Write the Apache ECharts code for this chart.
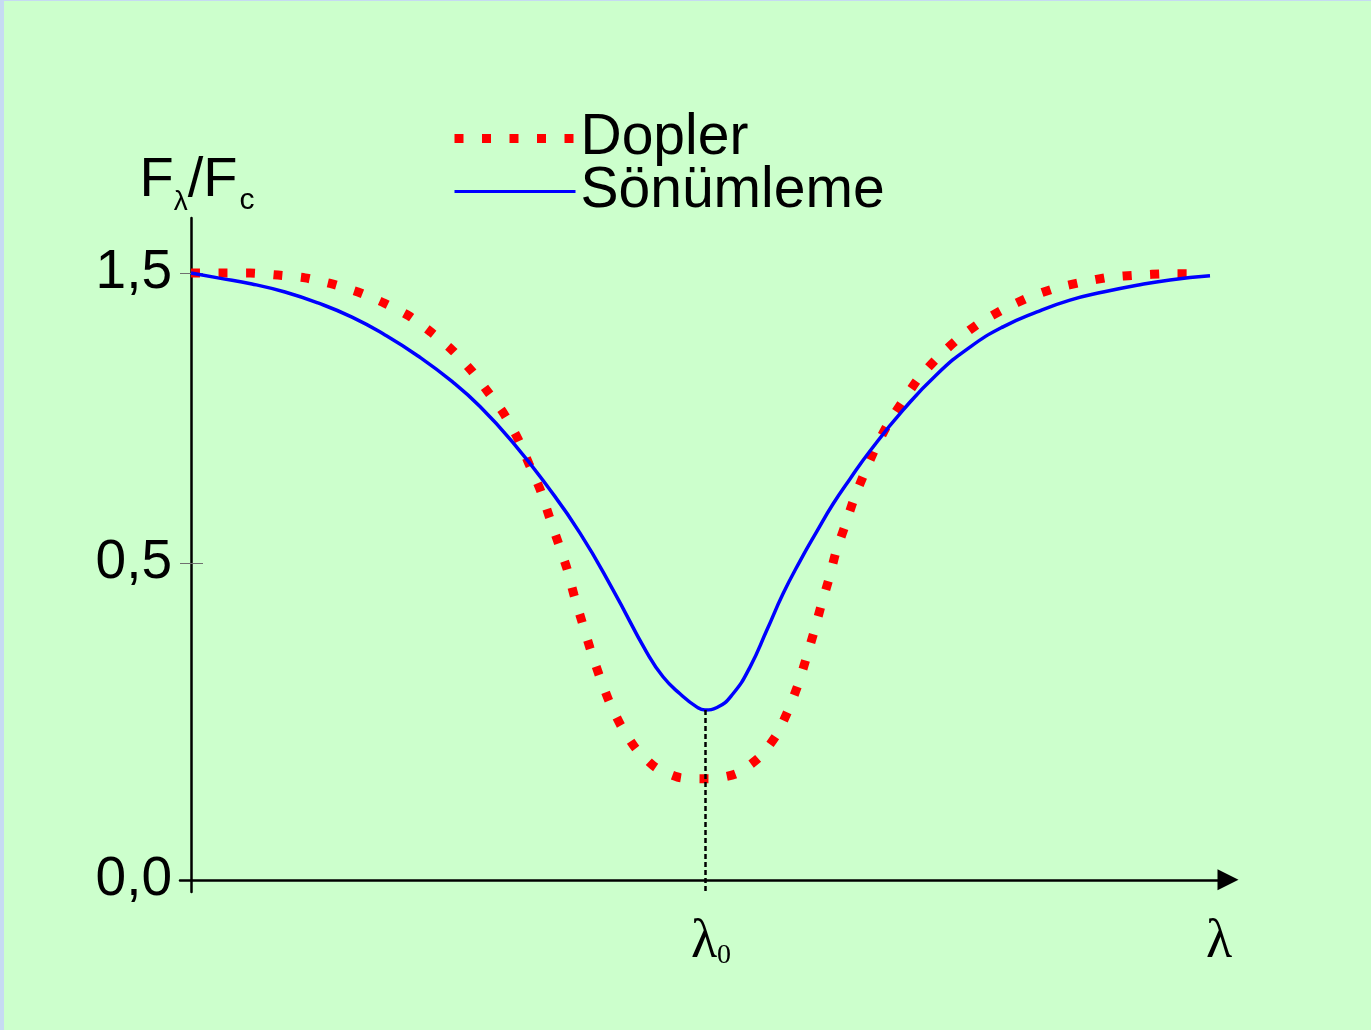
<!DOCTYPE html>
<html>
<head>
<meta charset="utf-8">
<script src="https://cdn.jsdelivr.net/npm/echarts@6/dist/echarts.min.js"></script>
<style>
  html, body { margin: 0; padding: 0; background: #ccffcc; }
  #chart { width: 1371px; height: 1030px; }
</style>
</head>
<body>
<div id="chart"></div>
<script>
// ---- data (wavelength offset from line centre, flux in plot units) ----
const seriesNames = ['Dopler', 'Sönümleme'];

const dopLambda = [-10.28, -9.66, -9.1, -8.54, -8.0, -7.46, -6.94, -6.42, -5.92, -5.48, -5.06, -4.68, -4.34, -4.02, -3.74, -3.52, -3.3, -3.12, -2.94, -2.76, -2.62, -2.46, -2.3, -2.12, -1.92, -1.68, -1.38, -0.98, -0.48, 0.08, 0.62, 1.08, 1.42, 1.66, 1.86, 2.02, 2.18, 2.32, 2.48, 2.62, 2.8, 2.98, 3.18, 3.4, 3.66, 3.96, 4.28, 4.66, 5.06, 5.52, 5.98, 6.5, 7.02, 7.56, 8.1, 8.66, 9.22, 9.95];
const dopFlux   = [1.5, 1.5, 1.5, 1.495, 1.488, 1.473, 1.453, 1.426, 1.394, 1.354, 1.31, 1.26, 1.206, 1.152, 1.09, 1.028, 0.966, 0.9, 0.835, 0.769, 0.704, 0.638, 0.573, 0.507, 0.442, 0.381, 0.324, 0.277, 0.252, 0.25, 0.262, 0.302, 0.356, 0.418, 0.482, 0.546, 0.613, 0.677, 0.744, 0.811, 0.875, 0.942, 1.003, 1.065, 1.127, 1.184, 1.241, 1.292, 1.337, 1.379, 1.411, 1.441, 1.463, 1.478, 1.49, 1.495, 1.498, 1.498];

const dampLambda = [-10.28, -9.74, -9.06, -8.4, -7.74, -7.06, -6.4, -5.74, -5.06, -4.5, -3.84, -3.16, -2.5, -1.84, -1.16, -0.84, -0.5, -0.16, 0, 0.24, 0.56, 0.9, 1.24, 1.56, 1.9, 2.24, 2.56, 2.9, 3.3, 3.96, 4.64, 5.3, 5.96, 6.64, 7.3, 7.96, 8.64, 9.3, 10.1];
const dampFlux   = [1.5, 1.488, 1.473, 1.453, 1.426, 1.391, 1.347, 1.295, 1.232, 1.17, 1.081, 0.974, 0.857, 0.717, 0.561, 0.502, 0.46, 0.427, 0.42, 0.426, 0.46, 0.526, 0.618, 0.707, 0.788, 0.862, 0.929, 0.991, 1.06, 1.161, 1.25, 1.317, 1.367, 1.404, 1.433, 1.453, 1.47, 1.483, 1.493];

// schematic axis: tick positions and their labels
const yTickValues = [0, 0.783, 1.5];
const yTickLabels = ['0,0', '0,5', '1,5'];
const xTickValues = [0.12, 10.28];
const xTickLabels = ['{l|λ}{s|0}', '{l|λ}'];
const lineCentre = 0;
const dampMin = 0.42;

const chart = echarts.init(document.getElementById('chart'), null, { renderer: 'canvas' });
const sans = 'Liberation Sans, Arial, sans-serif';
const serif = 'Liberation Serif, Times New Roman, serif';

function pick(values, labels, v) {
  let best = 0, d = Infinity;
  values.forEach((t, i) => { if (Math.abs(t - v) < d) { d = Math.abs(t - v); best = i; } });
  return labels[best];
}

const option = {
  animation: false,
  backgroundColor: '#ccffcc',
  graphic: [
    { type: 'rect', left: 0, top: 0, shape: { width: 4, height: 1030 }, style: { fill: '#c6daf2' }, silent: true },
    { type: 'rect', left: 0, top: 0, shape: { width: 1371, height: 1 }, style: { fill: '#c6daf2' }, silent: true }
  ],
  grid: { left: 180, right: 143, top: 218, bottom: 138 },
  legend: {
    data: [
      { name: seriesNames[0], lineStyle: { width: 9, type: [9, 18.5], cap: 'butt', color: '#ff0000' } },
      { name: seriesNames[1], lineStyle: { width: 3, color: '#0000ff' } }
    ],
    orient: 'vertical',
    left: 450,
    top: 110,
    itemWidth: 121,
    itemHeight: 14,
    itemGap: -4,
    padding: 0,
    itemStyle: { opacity: 0 },
    textStyle: { fontSize: 57, lineHeight: 52, color: '#000', fontFamily: sans }
  },
  xAxis: {
    type: 'value',
    min: -10.5,
    max: 10.46,
    axisLine: {
      show: true,
      onZero: true,
      symbol: ['none', 'triangle'],
      symbolSize: [21, 21],
      lineStyle: { color: '#000', width: 2.5 }
    },
    axisTick: { show: false },
    splitLine: { show: false },
    axisLabel: {
      customValues: xTickValues,
      margin: 28,
      formatter: v => pick(xTickValues, xTickLabels, v),
      rich: {
        l: { fontFamily: serif, fontSize: 54, color: '#000', verticalAlign: 'bottom', lineHeight: 50 },
        s: { fontFamily: serif, fontSize: 28, color: '#000', verticalAlign: 'bottom', lineHeight: 30 }
      }
    }
  },
  yAxis: [
    {
      type: 'value',
      min: -0.03,
      max: 1.636,
      position: 'left',
      offset: -11,
      axisLine: { show: true, onZero: false, lineStyle: { color: '#000', width: 2.5 } },
      axisTick: { show: true, customValues: [0.783, 1.5], length: 11, lineStyle: { color: '#6f6f6f', width: 1 } },
      splitLine: { show: false },
      axisLabel: {
        customValues: yTickValues,
        margin: 19,
        fontSize: 55,
        color: '#000',
        fontFamily: sans,
        formatter: v => pick(yTickValues, yTickLabels, v)
      },
      name: '{a|F}{b|λ}{a|/F}{c|c}',
      nameLocation: 'end',
      nameGap: 2,
      nameTextStyle: {
        padding: [0, 0, 0, 12],
        rich: {
          a: { fontSize: 56, fontFamily: sans, color: '#000', verticalAlign: 'bottom', lineHeight: 50, padding: [0, 0, 7, 0] },
          b: { fontSize: 28, fontFamily: sans, color: '#000', verticalAlign: 'bottom', lineHeight: 24 },
          c: { fontSize: 30, fontFamily: sans, color: '#000', verticalAlign: 'bottom', lineHeight: 28, padding: [0, 0, 0, 2] }
        }
      }
    },
    {
      type: 'value',
      min: -0.03,
      max: 1.636,
      position: 'left',
      offset: -11,
      axisLine: { show: false, onZero: false },
      axisTick: { show: true, inside: true, customValues: [0.783, 1.5], length: 12, lineStyle: { color: '#6f6f6f', width: 1 } },
      axisLabel: { show: false },
      splitLine: { show: false }
    }
  ],
  series: [
    {
      name: seriesNames[0],
      type: 'line',
      data: dopLambda.map((x, i) => [x, dopFlux[i]]),
      showSymbol: false,
      symbol: 'none',
      smooth: 0.2,
      color: '#ff0000',
      lineStyle: { color: '#ff0000', width: 9, type: [9, 18.5], cap: 'butt' },
      z: 3
    },
    {
      name: seriesNames[1],
      type: 'line',
      data: dampLambda.map((x, i) => [x, dampFlux[i]]),
      showSymbol: false,
      symbol: 'none',
      smooth: 0.5,
      color: '#0000ff',
      lineStyle: { color: '#0000ff', width: 3.5 },
      z: 4,
      markLine: {
        silent: true,
        symbol: 'none',
        label: { show: false },
        lineStyle: { color: '#000', width: 2.5, type: [5, 3] },
        data: [[{ coord: [lineCentre, dampMin] }, { coord: [lineCentre, -0.03] }]]
      }
    }
  ]
};
chart.setOption(option);
</script>
</body>
</html>
